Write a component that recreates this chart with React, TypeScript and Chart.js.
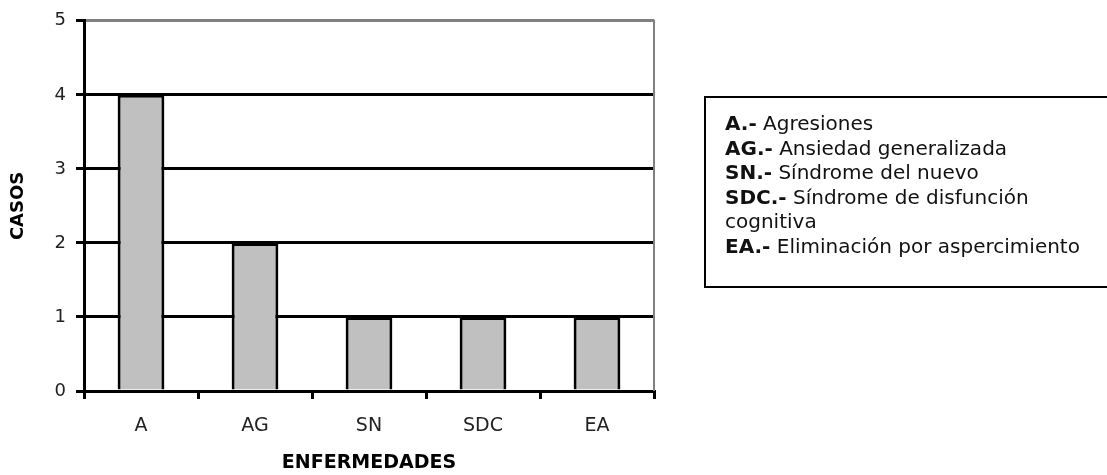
import React, { useEffect, useRef } from "react";
import { Chart, registerables } from "chart.js";

Chart.register(...registerables);

const categories = ["A", "AG", "SN", "SDC", "EA"];
const casos = [4, 2, 1, 1, 1];
const yTicks = [0, 1, 2, 3, 4, 5];
const legendAbbr = ["A.-", "AG.-", "SN.-", "SDC.-", "EA.-"];
const legendText = [
  "Agresiones",
  "Ansiedad generalizada",
  "Síndrome del nuevo",
  "Síndrome de disfunción cognitiva",
  "Eliminación por aspercimiento",
];
const xTitle = "ENFERMEDADES";
const yTitle = "CASOS";

const FONT = "'DejaVu Sans', sans-serif";

const borderPlugin = {
  id: "rightBorder",
  afterDraw(chart: any) {
    const { ctx, chartArea } = chart;
    ctx.save();
    ctx.strokeStyle = "#808080";
    ctx.lineWidth = 2;
    ctx.beginPath();
    ctx.moveTo(chartArea.right, chartArea.top - 1);
    ctx.lineTo(chartArea.right, chartArea.bottom);
    ctx.stroke();
    ctx.restore();
  },
};

export default function App() {
  const ref = useRef<HTMLCanvasElement | null>(null);

  useEffect(() => {
    if (!ref.current) return;
    const chart = new Chart(ref.current, {
      type: "bar",
      data: {
        labels: categories,
        datasets: [
          {
            data: casos,
            backgroundColor: "#c0c0c0",
            borderColor: "#000000",
            borderWidth: 3,
            categoryPercentage: 1,
            barPercentage: 0.41,
          },
        ],
      },
      options: {
        animation: false,
        responsive: true,
        maintainAspectRatio: false,
        layout: { padding: { top: 18, right: 453, bottom: 0, left: 0 } },
        plugins: {
          legend: { display: false },
          tooltip: { enabled: false },
        },
        scales: {
          x: {
            grid: {
              offset: true,
              drawOnChartArea: false,
              drawTicks: true,
              tickLength: 8,
              color: "#000000",
              lineWidth: 3,
            },
            border: { color: "#000000", width: 3 },
            ticks: {
              color: "#222222",
              padding: 16,
              font: { family: FONT, size: 19 },
            },
            title: {
              display: true,
              text: xTitle,
              color: "#000000",
              font: { family: FONT, size: 19, weight: "bold" },
              padding: { top: 0, bottom: 1 },
            },
            afterFit(scale: any) {
              scale.height = 84;
            },
          },
          y: {
            min: 0,
            max: 5,
            afterBuildTicks(scale: any) {
              scale.ticks = yTicks.map((v) => ({ value: v }));
            },
            grid: {
              color: (ctx: any) => (ctx.tick && ctx.tick.value === 5 ? "#808080" : "#000000"),
              tickColor: "#000000",
              lineWidth: 3,
              tickLength: 8,
            },
            border: { color: "#000000", width: 3 },
            ticks: {
              color: "#222222",
              padding: 10,
              font: { family: FONT, size: 18 },
            },
            title: {
              display: true,
              text: yTitle,
              color: "#000000",
              font: { family: FONT, size: 18, weight: "bold" },
              padding: { top: 8, bottom: 0 },
            },
            afterFit(scale: any) {
              scale.width = 84;
            },
          },
        },
      },
      plugins: [borderPlugin],
    });
    return () => chart.destroy();
  }, []);

  return (
    <div style={{ position: "fixed", left: 0, top: 0, width: 1107, height: 475, background: "#fff" }}>
      <canvas ref={ref} />
      <div
        style={{
          position: "absolute",
          left: 704,
          top: 96,
          width: 420,
          height: 192,
          boxSizing: "border-box",
          border: "2px solid #000",
          padding: "13px 0 0 19px",
          fontFamily: FONT,
          fontSize: 20,
          lineHeight: "24.5px",
          color: "#111",
        }}
      >
        {legendAbbr.map((a, i) => (
          <div key={a} style={{ width: 368 }}>
            <b>{a}</b> {legendText[i]}
          </div>
        ))}
      </div>
    </div>
  );
}
